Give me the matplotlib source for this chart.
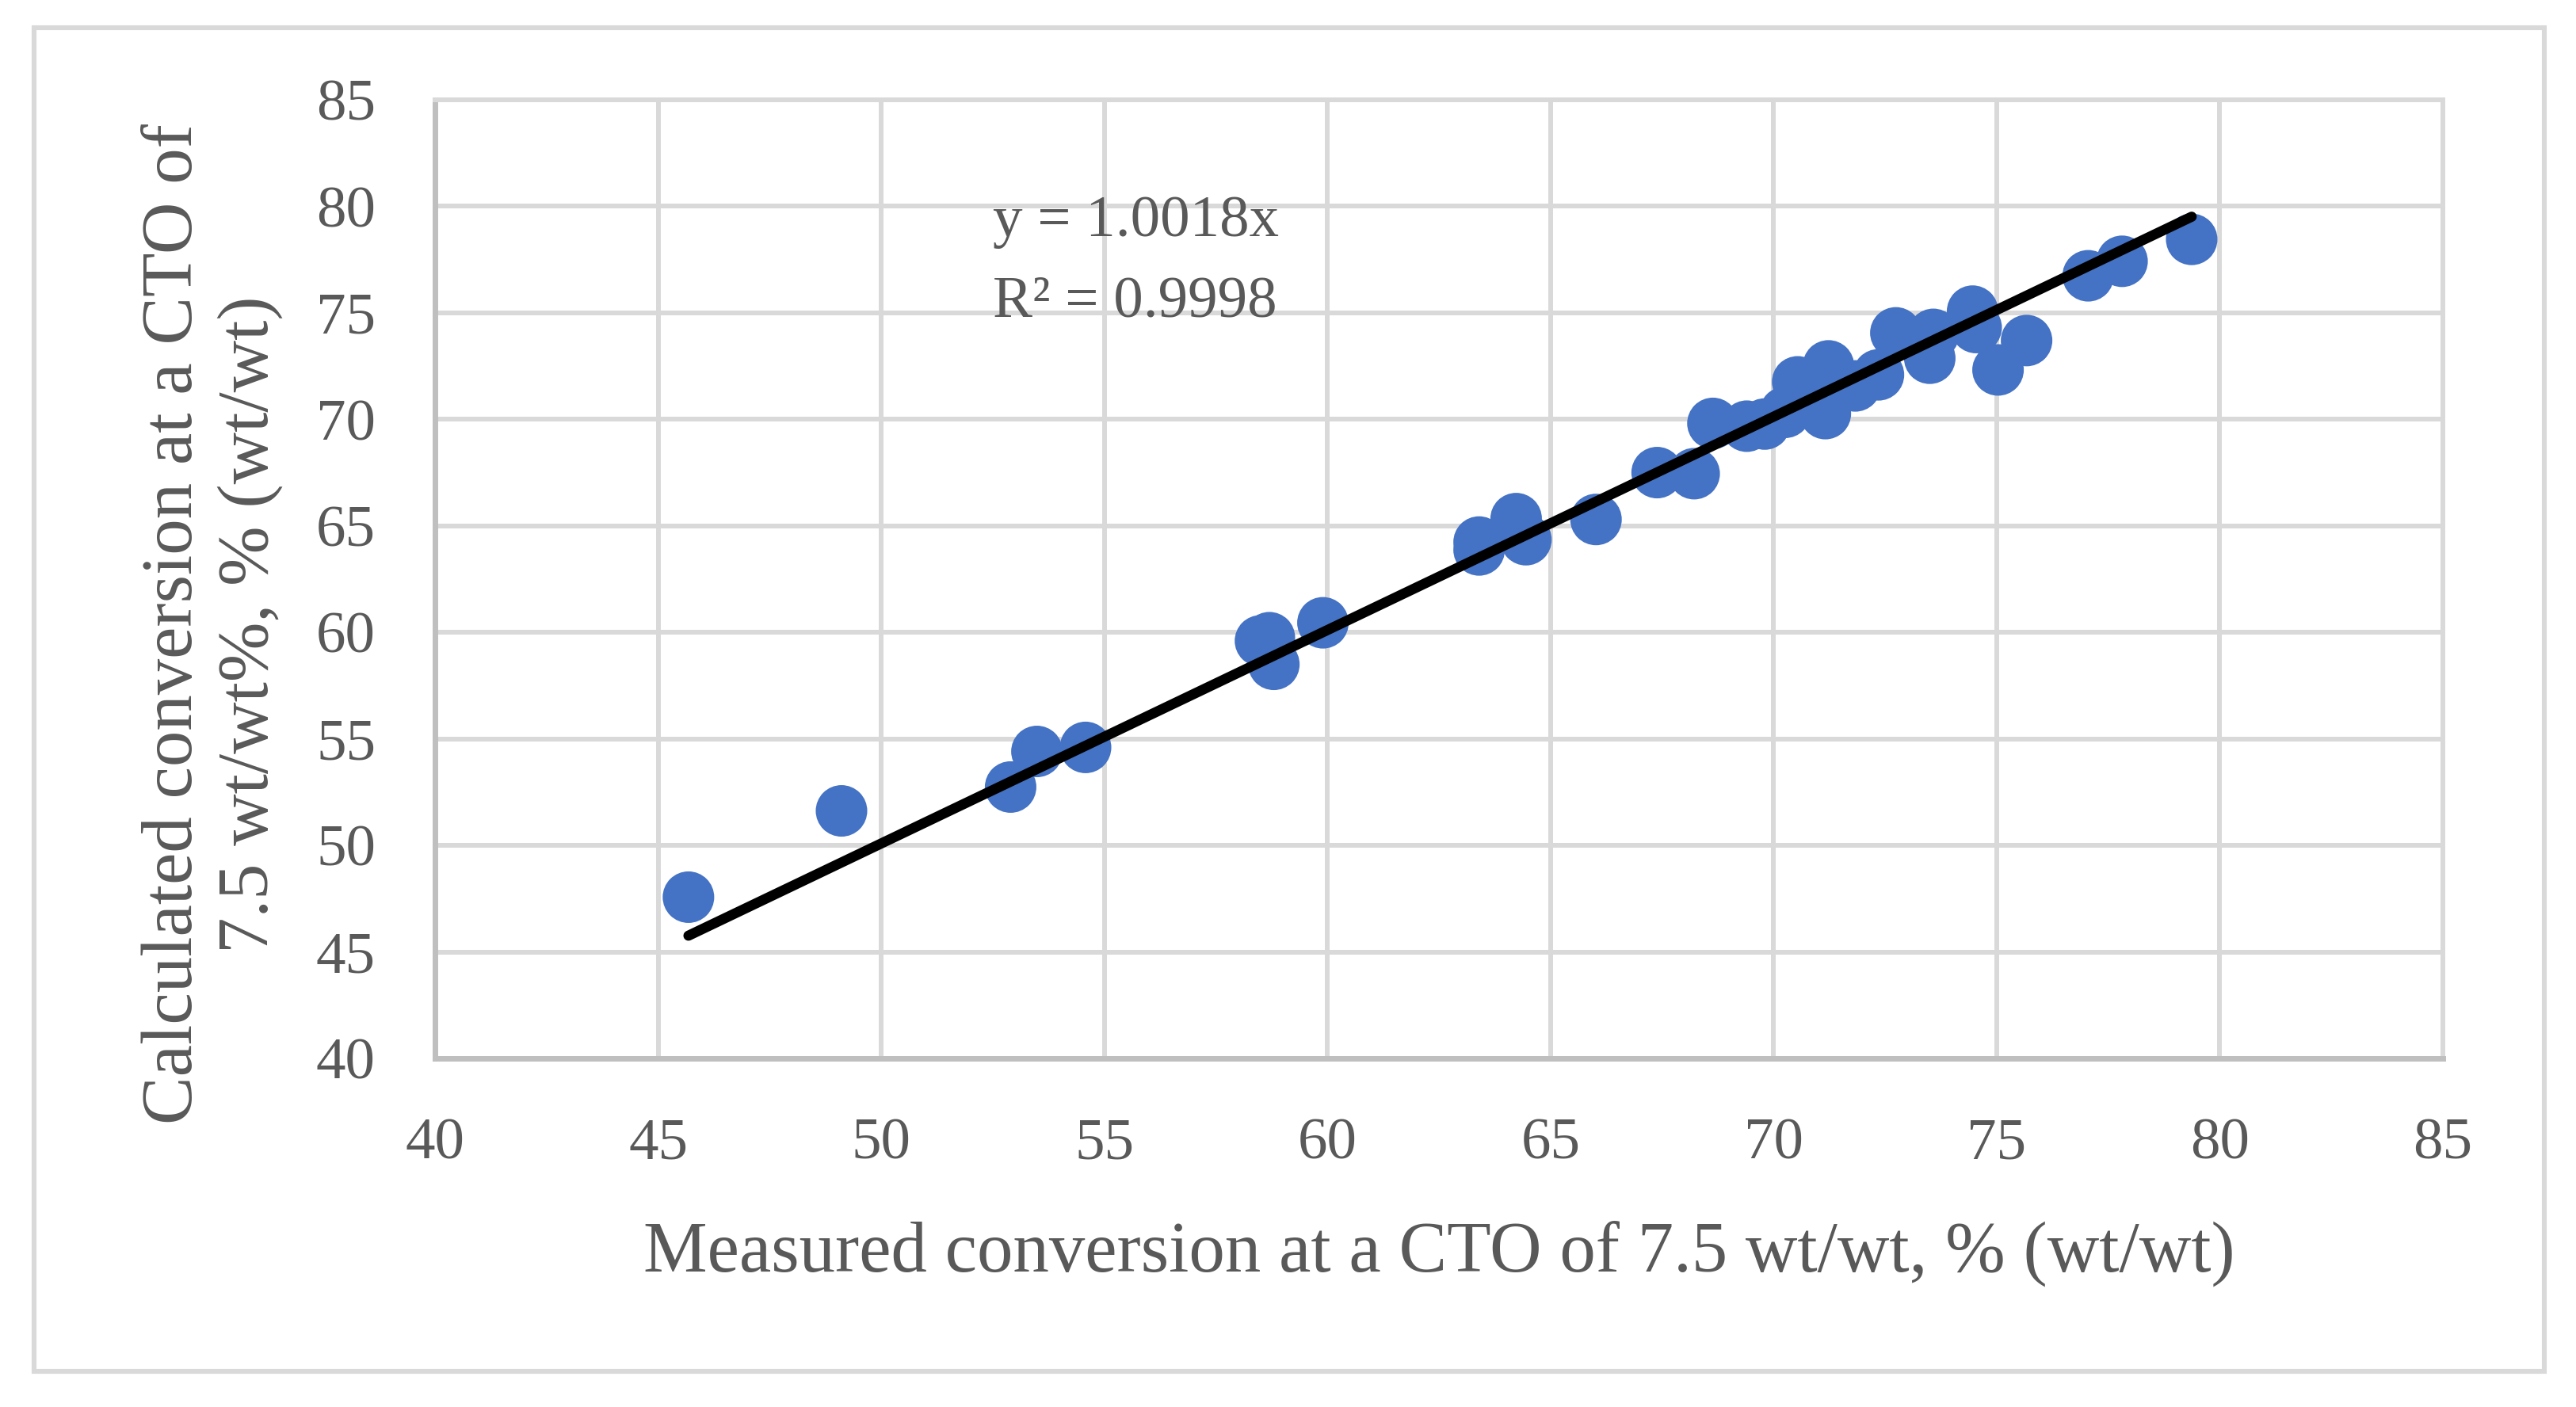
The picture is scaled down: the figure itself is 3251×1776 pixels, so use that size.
import matplotlib
matplotlib.use('Agg')
import matplotlib.pyplot as plt
from matplotlib.patches import Rectangle
import numpy as np

plt.rcParams['font.family'] = ['Liberation Serif', 'DejaVu Serif']

# measured vs calculated conversion
measured = [45.68, 49.11, 52.9, 53.49, 54.58, 58.5, 58.7, 58.8, 59.9,
            63.4, 63.4, 64.23, 64.45, 66.02, 67.39, 68.22, 68.64, 69.4,
            69.8, 70.26, 70.54, 71.16, 71.23, 71.83, 72.35, 72.74, 73.58,
            73.5, 74.46, 74.54, 75.03, 75.67, 77.05, 77.81, 79.37]
calculated = [47.57, 51.62, 52.74, 54.41, 54.6, 59.6, 59.75, 58.5, 60.45,
              64.24, 63.87, 65.34, 64.35, 65.3, 67.5, 67.45, 69.81, 69.68,
              69.78, 70.33, 71.76, 70.27, 72.51, 71.57, 72.09, 74.06, 73.99,
              72.87, 75.08, 74.31, 72.32, 73.7, 76.74, 77.42, 78.45]

slope = 1.0018
r2 = 0.9998
trend_x = [45.68, 79.37]

ticks = [40, 45, 50, 55, 60, 65, 70, 75, 80, 85]

xlabel = 'Measured conversion at a CTO of 7.5 wt/wt, % (wt/wt)'
ylabel = 'Calculated conversion at a CTO of\n7.5 wt/wt%, % (wt/wt)'

txt = '#595959'
W, H, dpi = 3251, 1776, 200
fig = plt.figure(figsize=(W / dpi, H / dpi), dpi=dpi)
ax = fig.add_axes([549 / W, 1 - 1336 / H, (3083 - 549) / W, (1336 - 126) / H])

ax.scatter(measured, calculated, s=548, color='#4472C4', edgecolors='none', zorder=3)
tx = np.array(trend_x)
ax.plot(tx, slope * tx, color='black', lw=4.6, solid_capstyle='round', zorder=4)

ax.set_xlim(40, 85)
ax.set_ylim(40, 85)
ax.set_xticks(ticks)
ax.set_yticks(ticks)
ax.grid(True, color='#D9D9D9', lw=2.16, zorder=0)
ax.set_axisbelow(True)
for s in ['top', 'right']:
    ax.spines[s].set_color('#D9D9D9')
    ax.spines[s].set_linewidth(2.16)
for s in ['left', 'bottom']:
    ax.spines[s].set_color('#BFBFBF')
    ax.spines[s].set_linewidth(2.5)
ax.tick_params(axis='both', length=0, labelsize=27, labelcolor=txt)
ax.tick_params(axis='x', pad=27)
ax.tick_params(axis='y', pad=27)

ax.text(0.278, 0.858, 'y = %.4fx' % slope, transform=ax.transAxes,
        fontsize=27, color=txt, va='baseline', ha='left')
ax.text(0.278, 0.774, 'R² = %.4f' % r2, transform=ax.transAxes,
        fontsize=27, color=txt, va='baseline', ha='left')

fig.text(1816 / W, 1 - 1605 / H, xlabel, fontsize=32.7, color=txt,
         ha='center', va='baseline')
fig.text(268 / W, 1 - 788 / H, ylabel, fontsize=32.7, color=txt,
         ha='center', va='center', rotation=90, multialignment='center')

# outer chart border
fig.patches.append(Rectangle((43 / W, 1 - 1731 / H), (3211 - 43) / W, (1731 - 35) / H,
                             transform=fig.transFigure, fill=False,
                             edgecolor='#D9D9D9', lw=2.2))

fig.savefig('out.png', dpi=dpi, facecolor='white')
